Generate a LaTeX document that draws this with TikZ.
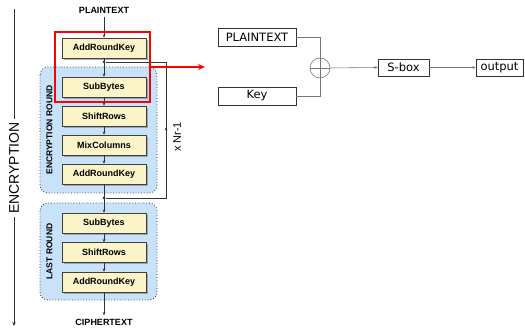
\documentclass[tikz,border=0pt]{standalone}
\usepackage{fontspec}
\setmainfont{Liberation Sans}
\newfontfamily\boxfont{DejaVu Sans}
\usetikzlibrary{shadows,arrows.meta,calc}

\definecolor{stagefill}{HTML}{FBF4C8}
\definecolor{roundfill}{HTML}{C8E2FA}
\definecolor{wire}{HTML}{333333}
\definecolor{plainwire}{HTML}{777777}

\tikzset{
  stagebox/.style={draw=black!75, fill=stagefill, line width=0.6pt,
    minimum width=84pt, minimum height=20pt, inner sep=0pt,
    font=\fontsize{9}{10}\selectfont\bfseries,
    drop shadow={shadow xshift=1.6pt, shadow yshift=-1.6pt, fill=black!45, opacity=0.7}},
  roundbox/.style={draw=black!80, fill=roundfill, dotted, line width=0.8pt,
    rounded corners=8pt},
  roundlabel/.style={rotate=90, font=\fontsize{8.5}{9}\selectfont\bfseries},
  textlabel/.style={font=\fontsize{9}{10}\selectfont\bfseries},
  flow/.style={draw=wire, line width=0.6pt, -{Stealth[length=3.2pt,width=2.8pt]}},
  plainline/.style={draw=wire, line width=0.6pt},
  joint/.style={circle, fill=wire, inner sep=0pt, minimum size=3pt},
  simplebox/.style={draw=black!80, line width=0.6pt, inner sep=0pt,
    font=\boxfont\fontsize{11.5}{12}\selectfont},
  thinflow/.style={draw=plainwire, line width=0.6pt, -{Stealth[length=3.2pt,width=2.8pt]}},
  thinline/.style={draw=plainwire, line width=0.6pt},
}

\begin{document}
\begin{tikzpicture}[x=1pt, y=-1pt]
\useasboundingbox (0,0) rectangle (525,328);

% overall direction marker
\node[rotate=90, font=\fontsize{14}{15}\selectfont, inner sep=3pt] (enc) at (14,168) {ENCRYPTION};
\coordinate (encTop) at (14,9);
\coordinate (encBot) at (14,326);
\draw[plainline] (encTop) -- (enc.east);
\draw[draw=wire, line width=0.7pt, -{Stealth[length=4pt,width=3.5pt]}] (enc.west) -- (encBot);

% round groups
\path[roundbox] (40,67) rectangle (157,193);
\path[roundbox] (40,203) rectangle (157,300);
\node[roundlabel] (rlab1) at (49.5,130) {ENCRYPTION ROUND};
\node[roundlabel] (rlab2) at (49.5,251.5) {LAST ROUND};

% input / output labels
\node[textlabel] (plain) at (104,10) {PLAINTEXT};
\node[textlabel] (cipher) at (104,322) {CIPHERTEXT};

% stages
\node[stagebox] (ark1) at (104,48) {AddRoundKey};
\node[stagebox] (sb1) at (104,87) {SubBytes};
\node[stagebox] (sr1) at (104,116) {ShiftRows};
\node[stagebox] (mc1) at (104,145) {MixColumns};
\node[stagebox] (ark2) at (104,174) {AddRoundKey};
\node[stagebox] (sb2) at (104,223) {SubBytes};
\node[stagebox] (sr2) at (104,252.5) {ShiftRows};
\node[stagebox] (ark3) at (104,282) {AddRoundKey};

% data flow
\draw[flow] (plain) -- (ark1);
\draw[flow] (ark1) -- (sb1);
\draw[flow] (sb1) -- (sr1);
\draw[flow] (sr1) -- (mc1);
\draw[flow] (mc1) -- (ark2);
\draw[flow] (ark2) -- (sb2);
\draw[flow] (sb2) -- (sr2);
\draw[flow] (sr2) -- (ark3);
\draw[flow] (ark3) -- (cipher);

% repeat loop
\node[joint] (jTop) at (104,62) {};
\node[joint] (jBot) at (104,198) {};
\coordinate (loopBot) at (166,198);
\coordinate (loopTop) at (166,62);
\draw[plainline] (jBot) -- (loopBot) -- (loopTop) -- (jTop);
\draw[flow] (loopBot) -- ($(loopBot)!0.52!(loopTop)$);
\node[rotate=90, font=\fontsize{11}{12}\selectfont] (nr) at (177,137) {x Nr-1};

% highlighted first stages
\draw[red, line width=2.2pt] (55,32) rectangle (150,102);
\coordinate (hlFrom) at (151,67);
\coordinate (hlTo) at (205,67);
\draw[red, line width=2pt, -{Stealth[length=7pt,width=6pt]}] (hlFrom) -- (hlTo);

% detail: key mixing and substitution
\node[simplebox, minimum width=78pt, minimum height=18pt] (pt) at (257,37) {PLAINTEXT};
\node[simplebox, minimum width=78pt, minimum height=18pt] (key) at (257,96) {Key};
\node[circle, draw=plainwire, line width=0.6pt, minimum size=20pt, inner sep=0pt] (xor) at (320,68) {};
\draw[thinline] (xor.west) -- (xor.east);
\draw[thinline] (pt.east) -| (xor.north);
\draw[thinline] (key.east) -| (xor.south);
\draw[thinline] (xor.north) -- (xor.south);
\node[simplebox, minimum width=51pt, minimum height=17pt] (sbox) at (403.5,67.5) {S-box};
\node[simplebox, minimum width=47pt, minimum height=17pt] (out) at (499.5,67.5) {output};
\draw[thinflow] (xor.east) -- (sbox.west);
\draw[thinflow] (sbox.east) -- (out.west);
\end{tikzpicture}
\end{document}
